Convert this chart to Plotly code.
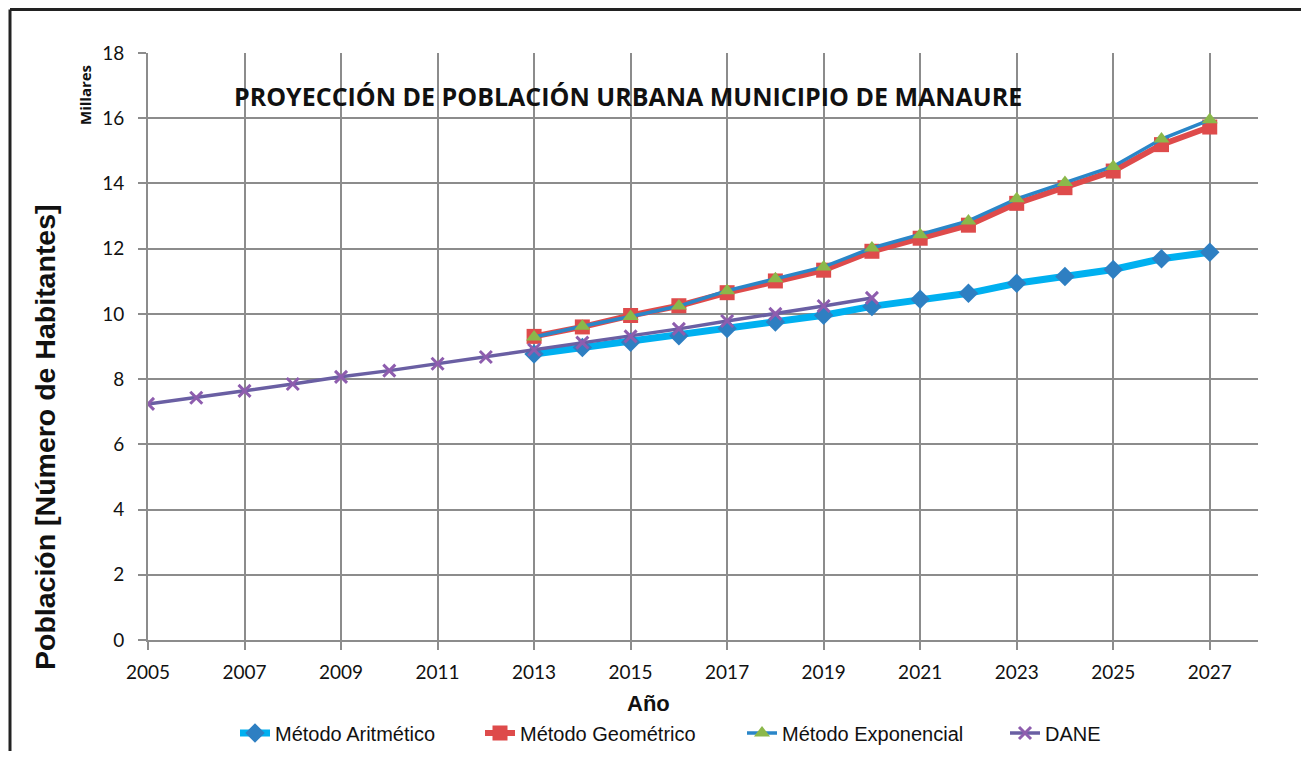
import plotly.graph_objects as go

years_dane = list(range(2005, 2021))
dane = [7.24, 7.43, 7.64, 7.85, 8.07, 8.26, 8.47, 8.68, 8.90, 9.12, 9.31, 9.54, 9.78, 10.00, 10.24, 10.49]

years_proj = list(range(2013, 2028))
aritmetico = [8.77, 8.97, 9.13, 9.33, 9.55, 9.75, 9.96, 10.23, 10.45, 10.63, 10.94, 11.15, 11.36, 11.69, 11.89]
geometrico = [9.31, 9.60, 9.95, 10.25, 10.65, 11.01, 11.34, 11.92, 12.32, 12.72, 13.39, 13.87, 14.38, 15.19, 15.73]
exponencial = [9.29, 9.62, 9.92, 10.24, 10.71, 11.08, 11.44, 12.02, 12.43, 12.85, 13.53, 14.03, 14.52, 15.36, 15.95]

names = ["Método Aritmético", "Método Geométrico", "Método Exponencial", "DANE"]

# page body has an 8px margin on every side: size the figure to fit the window
W, H = 1293, 743
L, T, PW, PH = 140, 45, 1110, 587


def px(sx):
    """screen x (px) -> paper x"""
    return (sx - 8 - L) / PW


def py(sy):
    """screen y (px) -> paper y"""
    return (T + PH - (sy - 8)) / PH


fig = go.Figure()
fig.add_trace(go.Scatter(x=years_proj, y=aritmetico, name=names[0], mode="lines+markers",
                         line=dict(color="#00B0F0", width=7), legend="legend",
                         marker=dict(symbol="diamond", size=15, color="#2E7FC2")))
fig.add_trace(go.Scatter(x=years_proj, y=geometrico, name=names[1], mode="lines+markers",
                         line=dict(color="#DE4B4B", width=6), legend="legend2",
                         marker=dict(symbol="square", size=15, color="#DE4B4B")))
fig.add_trace(go.Scatter(x=years_proj, y=exponencial, name=names[2], mode="lines+markers",
                         line=dict(color="#2A86C8", width=3.5), legend="legend3",
                         marker=dict(symbol="triangle-up", size=14, color="#8BB84A")))
fig.add_trace(go.Scatter(x=years_dane, y=dane, name=names[3], mode="lines+markers",
                         line=dict(color="#6A5FA3", width=3.5), legend="legend4",
                         marker=dict(symbol="x-thin", size=12, color="#8E5DAE",
                                     line=dict(width=3, color="#8E5DAE"))))

grid = "#8C8C8C"
tickfont = dict(family="Lato, Open Sans, sans-serif", size=19, color="#111")
legfont = dict(family="Liberation Sans, Arial, sans-serif", size=20, color="#111")


def leg(sx):
    return dict(orientation="h", x=px(sx), xanchor="left", y=py(733), yanchor="middle",
                font=legfont, bgcolor="rgba(0,0,0,0)", borderwidth=0)


fig.update_layout(
    width=W, height=H,
    margin=dict(l=L, r=W - L - PW, t=T, b=H - T - PH, autoexpand=False),
    paper_bgcolor="white", plot_bgcolor="white",
    showlegend=True,
    legend=leg(235), legend2=leg(480), legend3=leg(742), legend4=leg(1005),
    xaxis=dict(range=[2005, 2028], tick0=2005, dtick=2, showgrid=True, gridcolor=grid, gridwidth=2,
               showline=True, linecolor=grid, linewidth=2, ticks="outside", ticklen=8,
               tickcolor=grid, tickwidth=2, tickfont=tickfont, zeroline=False,
               ticklabelstandoff=6),
    yaxis=dict(range=[0, 18], dtick=2, showgrid=True, gridcolor=grid, gridwidth=2,
               showline=True, linecolor=grid, linewidth=2, ticks="outside", ticklen=8,
               tickcolor=grid, tickwidth=2, tickfont=tickfont, zeroline=False,
               ticklabelstandoff=10),
    annotations=[
        dict(text="<b>PROYECCIÓN DE POBLACIÓN URBANA MUNICIPIO DE MANAURE</b>", x=px(628), y=py(96),
             xref="paper", yref="paper", showarrow=False, xanchor="center", yanchor="middle",
             font=dict(family="Open Sans, Lato, sans-serif", size=25, color="#111")),
        dict(text="<b>Millares</b>", x=px(85), y=py(95), xref="paper", yref="paper",
             showarrow=False, textangle=-90, xanchor="center", yanchor="middle",
             font=dict(family="Open Sans, Lato, sans-serif", size=15, color="#111")),
        dict(text="<b>Población [Número de Habitantes]</b>", x=px(45), y=py(437),
             xref="paper", yref="paper", showarrow=False, textangle=-90,
             xanchor="center", yanchor="middle",
             font=dict(family="Liberation Sans, Arial, sans-serif", size=28.5, color="#111")),
        dict(text="<b>Año</b>", x=px(648), y=py(703), xref="paper", yref="paper", showarrow=False,
             xanchor="center", yanchor="middle",
             font=dict(family="Liberation Sans, Arial, sans-serif", size=22, color="#111")),
    ],
    shapes=[
        dict(type="line", xref="paper", yref="paper", x0=px(10), x1=px(1330),
             y0=py(9.5), y1=py(9.5), line=dict(color="#222", width=3)),
        dict(type="line", xref="paper", yref="paper", x0=px(10), x1=px(10),
             y0=py(9.5), y1=py(780), line=dict(color="#222", width=3)),
    ],
)

fig.write_html("out.html")
